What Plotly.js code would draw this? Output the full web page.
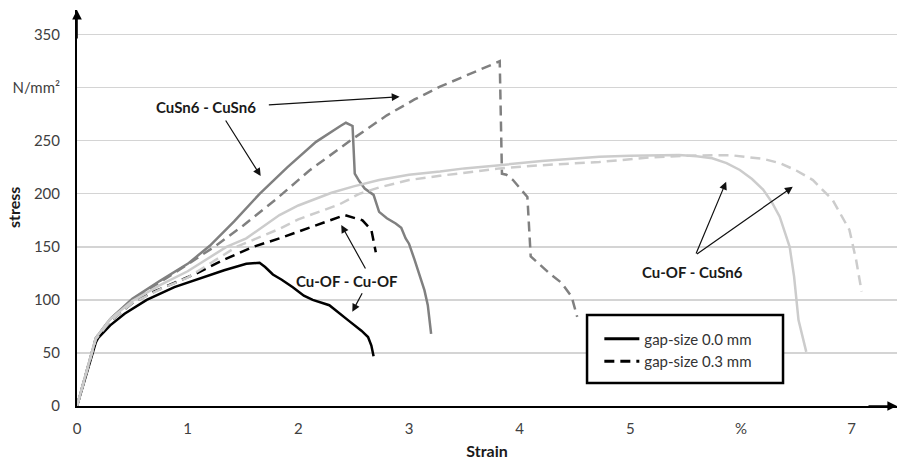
<!DOCTYPE html>
<html>
<head>
<meta charset="utf-8">
<script src="https://cdn.plot.ly/plotly-3.0.1.min.js"></script>
<style>
  html, body { margin: 0; padding: 0; background: #ffffff; }
  #chart { width: 900px; height: 462px; }
</style>
</head>
<body>
<div id="chart"></div>
<script>
// ---- data (strain in %, stress in N/mm²) ----
var xTickVals = [0, 1, 2, 3, 4, 5, 6, 7];
var xTickText = ['0', '1', '2', '3', '4', '5', '%', '7'];
var yTickVals = [0, 50, 100, 150, 200, 250, 300, 350];
var yTickText = ['0', '50', '100', '150', '200', '250', 'N/mm²', '350'];

// Cu-OF - Cu-OF, gap-size 0.0 mm
var cuofCuofGap00X = [0, 0.17, 0.19, 0.3, 0.43, 0.63, 0.88, 1.08, 1.33, 1.53, 1.65, 1.7, 1.77, 1.85, 1.95, 2.05, 2.13, 2.28, 2.36, 2.46, 2.57, 2.63, 2.66, 2.68];
var cuofCuofGap00Y = [0, 60, 64, 76, 87, 100, 112, 119, 128, 134, 135, 131, 124, 119, 112, 104, 100, 95, 88, 80, 71, 65, 57, 47];
// Cu-OF - Cu-OF, gap-size 0.3 mm
var cuofCuofGap03X = [0, 0.17, 0.3, 0.5, 0.7, 0.88, 1.08, 1.33, 1.59, 1.83, 2.1, 2.28, 2.42, 2.58, 2.66, 2.7];
var cuofCuofGap03Y = [0, 63, 80, 97, 108, 116, 125, 138, 150, 158, 168, 175, 180, 175, 166, 145];
// CuSn6 - CuSn6, gap-size 0.0 mm
var cusnCusnGap00X = [0, 0.17, 0.3, 0.5, 0.75, 1.0, 1.2, 1.42, 1.65, 1.9, 2.16, 2.3, 2.38, 2.43, 2.49, 2.51, 2.55, 2.6, 2.68, 2.73, 2.8, 2.88, 2.93, 2.97, 3.0, 3.05, 3.1, 3.14, 3.17, 3.2];
var cusnCusnGap00Y = [0, 64, 82, 101, 118, 134, 151, 174, 200, 225, 249, 259, 264, 267, 264, 219, 212, 205, 199, 183, 177, 172, 168, 158, 153, 138, 122, 109, 95, 68];
// CuSn6 - CuSn6, gap-size 0.3 mm
var cusnCusnGap03X = [0, 0.17, 0.3, 0.5, 0.8, 1.0, 1.24, 1.5, 1.8, 2.1, 2.48, 2.8, 3.05, 3.28, 3.5, 3.64, 3.82, 3.84, 3.88, 3.94, 4.07, 4.1, 4.27, 4.38, 4.47, 4.52];
var cusnCusnGap03Y = [0, 64, 82, 100, 120, 134, 150, 170, 195, 222, 251, 274, 289, 301, 311, 317, 325, 219, 218, 213, 197, 141, 125, 116, 103, 84];
// Cu-OF - CuSn6, gap-size 0.0 mm
var cuofCusnGap00X = [0, 0.17, 0.3, 0.5, 0.75, 1.0, 1.35, 1.53, 1.83, 2.0, 2.3, 2.5, 2.73, 3.0, 3.28, 3.5, 3.82, 4.2, 4.72, 5.0, 5.44, 5.6, 5.74, 5.87, 5.99, 6.1, 6.2, 6.28, 6.35, 6.44, 6.48, 6.5, 6.52, 6.59];
var cuofCusnGap00Y = [0, 64, 82, 99, 114, 127, 150, 158, 180, 189, 201, 207, 213, 218, 221, 224, 227, 231, 235, 236, 236.5, 235.5, 233.5, 229, 222.5, 214, 204, 192, 178.5, 150, 122, 100, 81, 51];
// Cu-OF - CuSn6, gap-size 0.3 mm
var cuofCusnGap03X = [0, 0.17, 0.3, 0.5, 0.75, 1.0, 1.44, 1.83, 2.0, 2.37, 2.55, 2.73, 3.0, 3.28, 3.82, 4.2, 4.72, 5.14, 5.5, 5.9, 6.2, 6.35, 6.5, 6.65, 6.83, 6.98, 7.04, 7.09];
var cuofCusnGap03Y = [0, 63, 80, 97, 110, 121, 150, 167, 176, 190, 200, 206, 213, 217, 224, 227, 230, 234, 236, 236.5, 233, 229, 222, 213, 194, 166, 138, 108];

var legendNames = ['gap-size 0.0 mm', 'gap-size 0.3 mm'];

// ---- styles ----
var FONT = 'Lato, "Open Sans", sans-serif';
var DASH = '10px,6px';
var W = 2.5;
var BLACK = '#000000', DARK = '#808080', LIGHT = '#cccccc';

function line(x, y, color, dash, name) {
  return { x: x, y: y, type: 'scatter', mode: 'lines', name: name, showlegend: false,
           hoverinfo: 'skip', line: { color: color, width: W, dash: dash, shape: 'linear' } };
}

var traces = [
  line(cuofCuofGap00X, cuofCuofGap00Y, BLACK, 'solid', 'Cu-OF - Cu-OF 0.0'),
  line(cuofCuofGap03X, cuofCuofGap03Y, BLACK, DASH, 'Cu-OF - Cu-OF 0.3'),
  line(cusnCusnGap00X, cusnCusnGap00Y, DARK, 'solid', 'CuSn6 - CuSn6 0.0'),
  line(cusnCusnGap03X, cusnCusnGap03Y, DARK, DASH, 'CuSn6 - CuSn6 0.3'),
  line(cuofCusnGap00X, cuofCusnGap00Y, LIGHT, 'solid', 'Cu-OF - CuSn6 0.0'),
  line(cuofCusnGap03X, cuofCusnGap03Y, LIGHT, DASH, 'Cu-OF - CuSn6 0.3'),
  { x: [null], y: [null], type: 'scatter', mode: 'lines', name: legendNames[0], showlegend: true,
    line: { color: BLACK, width: 3, dash: 'solid' } },
  { x: [null], y: [null], type: 'scatter', mode: 'lines', name: legendNames[1], showlegend: true,
    line: { color: BLACK, width: 3, dash: DASH } }
];

function arrow(tx, ty, ax, ay) {
  return { x: tx, y: ty, ax: ax, ay: ay, xref: 'x', yref: 'y', axref: 'x', ayref: 'y',
           text: '', showarrow: true, arrowhead: 2, arrowsize: 1.3, arrowwidth: 1.2, arrowcolor: '#111' };
}
function label(x, y, txt) {
  return { x: x, y: y, xref: 'x', yref: 'y', text: '<b>' + txt + '</b>', showarrow: false,
           font: { family: FONT, size: 15, color: '#1a1a1a' }, xanchor: 'center', yanchor: 'middle' };
}

var annotations = [
  label(1.163, 282, 'CuSn6 - CuSn6'),
  arrow(2.915, 291.6, 1.72, 283.7),
  arrow(1.66, 216.8, 1.335, 270.5),
  label(2.436, 117.8, 'Cu-OF - Cu-OF'),
  arrow(2.388, 170.6, 2.614, 128.2),
  arrow(2.488, 88.9, 2.584, 107.7),
  label(5.565, 126.6, 'Cu-OF - CuSn6'),
  arrow(5.866, 211.4, 5.589, 142.3),
  arrow(6.468, 206.7, 5.589, 142.3),
  // axis arrow heads
  { x: 0, y: 373.3, xref: 'x', yref: 'y', ax: 0, ay: 30, text: '', showarrow: true,
    arrowhead: 2, arrowsize: 1.2, arrowwidth: 1.6, arrowcolor: '#000' },
  { x: 7.41, y: 0, xref: 'x', yref: 'y', ax: -30, ay: 0, text: '', showarrow: true,
    arrowhead: 2, arrowsize: 1.2, arrowwidth: 1.6, arrowcolor: '#000' },
  // y axis title
  { x: -0.078, y: 0.5, xref: 'paper', yref: 'paper', text: '<b>stress</b>', showarrow: false,
    textangle: -90, font: { family: FONT, size: 16, color: '#1a1a1a' }, xanchor: 'center', yanchor: 'middle' }
];

// legend frame (drawn as a rectangle, legend entries sit inside it)
var shapes = [
  { type: 'rect', xref: 'paper', yref: 'paper', x0: 0.622, x1: 0.861, y0: 0.058, y1: 0.2298,
    line: { color: '#000', width: 2.5 }, fillcolor: '#ffffff', layer: 'above' }
];

var layout = {
  width: 900, height: 462,
  margin: { l: 77, r: 3, t: 10, b: 56, pad: 0 },
  paper_bgcolor: '#ffffff', plot_bgcolor: '#ffffff',
  font: { family: FONT, size: 15, color: '#404040' },
  xaxis: {
    range: [0, 7.41], tickmode: 'array', tickvals: xTickVals, ticktext: xTickText,
    showgrid: false, zeroline: false, showline: true, linecolor: '#000', linewidth: 2,
    ticks: '', ticklabelstandoff: 8, tickfont: { family: FONT, size: 15, color: '#404040' },
    title: { text: '<b>Strain</b>', standoff: 10, font: { family: FONT, size: 16, color: '#1a1a1a' } },
    fixedrange: true
  },
  yaxis: {
    range: [0, 373.3], tickmode: 'array', tickvals: yTickVals, ticktext: yTickText,
    showgrid: true, gridcolor: '#d4d4d4', gridwidth: 1.3, zeroline: false,
    showline: true, linecolor: '#000', linewidth: 2,
    ticks: '', ticklabelstandoff: 12, tickfont: { family: FONT, size: 15, color: '#404040' },
    fixedrange: true
  },
  legend: {
    x: 0.637, y: 0.211, xanchor: 'left', yanchor: 'top',
    bgcolor: 'rgba(0,0,0,0)', borderwidth: 0,
    font: { family: FONT, size: 15, color: '#333' }, itemwidth: 35, tracegroupgap: 0
  },
  shapes: shapes,
  annotations: annotations,
  showlegend: true
};

Plotly.newPlot('chart', traces, layout, { displayModeBar: false, staticPlot: true });
</script>
</body>
</html>
